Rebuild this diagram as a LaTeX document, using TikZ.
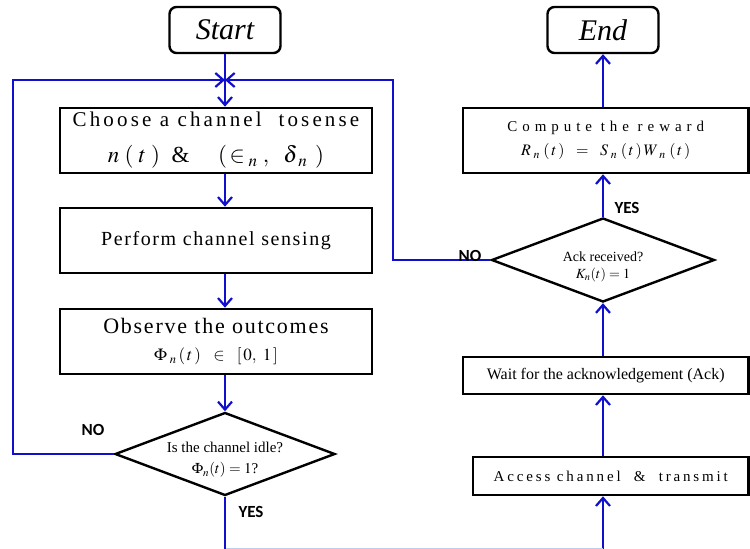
\documentclass[tikz,border=0pt]{standalone}
\usepackage{mathptmx}
\usepackage{fontspec}
\setmainfont{Liberation Serif}
\newfontfamily\labfont{Carlito}
\usetikzlibrary{arrows.meta,shapes.geometric}
\definecolor{flowblue}{RGB}{15,15,205}
\definecolor{faintblue}{RGB}{190,205,235}
\newcommand{\lsp}[2]{{\addfontfeature{LetterSpace=#1}#2}}
\tikzset{
  term/.style={draw=black, line width=2.4pt, rounded corners=7pt, minimum width=111pt, minimum height=46pt, inner sep=0pt, font=\fontsize{30}{30}\selectfont\itshape},
  proc/.style={draw=black, line width=2.6pt, inner sep=0pt, align=center},
  dec/.style={diamond, draw=black, line width=2.4pt, inner sep=0pt},
  dtext/.style={align=center, inner sep=0pt},
  flow/.style={draw=flowblue, line width=2.2pt},
  arr/.style={flow, -{Straight Barb[length=8pt,width=14pt]}},
  lab/.style={font=\labfont\bfseries\fontsize{17}{17}\selectfont, inner sep=0pt}
}
\begin{document}
\begin{tikzpicture}[x=1pt,y=-1pt]
\useasboundingbox (0,0) rectangle (750,549);
\clip (0,0) rectangle (750,549);
% terminals
\node[term] (start) at (225,30) {Start};
\node[term] (end) at (603,30) {End};
% left column
\node[proc, minimum width=312pt, minimum height=65pt, font=\fontsize{21}{36}\selectfont] (choose) at (216,140.5)
  {\lsp{15}{Choose a channel \ tosense}\\ {\fontsize{23}{23}\selectfont $n\;(\;t\;)$ \ \&\ \quad $(\,\in_{\;n}\;,\ \ \delta_{\;n}\;\,)$}};
\node[proc, minimum width=312pt, minimum height=65pt, font=\fontsize{20}{24}\selectfont] (perform) at (216,240.5)
  {\lsp{8}{Perform channel sensing}};
\node[proc, minimum width=312pt, minimum height=65pt, font=\fontsize{22}{25}\selectfont] (observe) at (216,341.5)
  {\lsp{8}{Observe the outcomes}\\[2pt] {\fontsize{17}{17}\selectfont $\Phi_{\;n}\,(\,t\,)\ \ \in\ \ [\,0,\ 1\,]$}};
\node[dec, minimum width=220pt, minimum height=83pt] (idle) at (225,454) {};
\node[dtext, font=\fontsize{15}{21}\selectfont] (idletext) at (225,460) {Is the channel idle?\\ $\Phi_n(t)=1$?};
% right column
\node[proc, minimum width=285.5pt, minimum height=65pt, font=\fontsize{15}{24}\selectfont] (compute) at (605.75,140.5)
  {\lsp{33}{Compute the reward}\\ {\fontsize{16}{16}\selectfont $R_{\;n}\;(\,t\,)\ \ =\ \ S_{\;n}\;(\,t\,)\,W_{\;\,n}\;(\,t\,)$}};
\node[dec, minimum width=223pt, minimum height=84pt] (ack) at (603,260) {};
\node[dtext, font=\fontsize{14}{17}\selectfont] (acktext) at (603,267) {Ack received?\\ $K_n(t)=1$};
\node[proc, minimum width=285.5pt, minimum height=37pt, font=\fontsize{16}{20}\selectfont] (wait) at (605.75,375.5)
  {Wait for the acknowledgement (Ack)};
\node[proc, minimum width=275.5pt, minimum height=38pt, font=\fontsize{15}{20}\selectfont] (access) at (610.75,476)
  {\lsp{19}{Access channel \ \& \ transmit}};
% connectors
\coordinate (J) at (225,80);
\coordinate (B) at (603,549.6);
\draw[flow] (start.south) -- (J);
\draw[arr] (idle.west) -| (13,80) -- (J);
\draw[arr] (ack.west) -| (393,80) -- (J);
\draw[arr] (J) -- (J |- choose.north);
\draw[arr] (J |- choose.south) -- (J |- perform.north);
\draw[arr] (J |- perform.south) -- (J |- observe.north);
\draw[arr] (J |- observe.south) -- (idle.north);
\draw[arr] (idle.south) |- (B) -- (B |- access.south);
\draw[faintblue, line width=1pt] (idle.south |- B) ++(1,-1.3) -- ++(377,0);
\draw[arr] (B |- access.north) -- (B |- wait.south);
\draw[arr] (B |- wait.north) -- (ack.south);
\draw[arr] (ack.north) -- (B |- compute.south);
\draw[arr] (B |- compute.north) -- (end.south);
% labels
\node[lab] (no1) at (93,430) {NO};
\node[lab] (yes1) at (251,512) {YES};
\node[lab] (yes2) at (627,208) {YES};
\node[lab] (no2) at (470,256) {NO};
\end{tikzpicture}
\end{document}
